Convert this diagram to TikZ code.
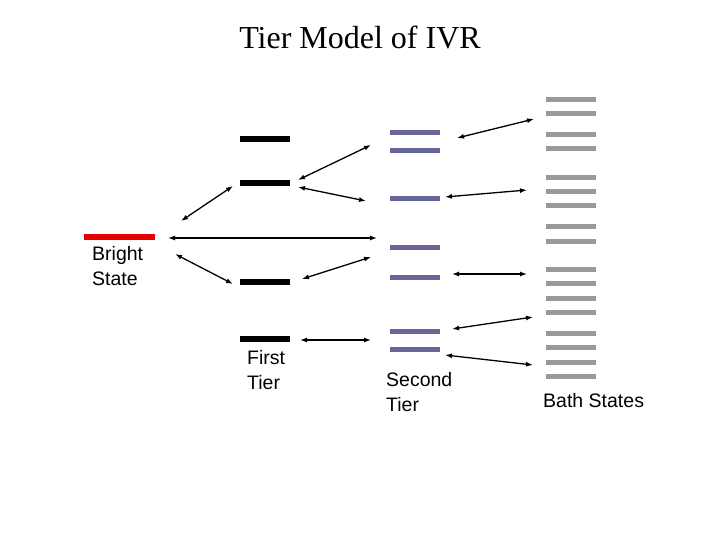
\documentclass[tikz,border=0pt]{standalone}
\usepackage{fontspec}
\setmainfont{Liberation Serif}
\setsansfont{Liberation Sans}
\usetikzlibrary{arrows.meta}
\begin{document}
\begin{tikzpicture}[x=1pt,y=-1pt,
  arr/.style={{Latex[length=7pt,width=5pt]}-{Latex[length=7pt,width=5pt]},line width=1.3pt},
  lab/.style={font=\sffamily\fontsize{19.5}{25}\selectfont,align=left,anchor=north west,inner sep=0pt}]
\useasboundingbox (0,0) rectangle (720,540);
\node[font=\fontsize{32}{34}\selectfont] (title) at (360,37) {Tier Model of IVR};
% bright
\draw[line width=6pt,red!90!black] (84,237) -- (155,237);
\node[lab] (bl) at (92,246) {Bright\\State};
% first tier
\foreach \y in {139,183,282,339} \draw[line width=6pt] (240,\y) -- (290,\y);
\node[lab] (fl) at (247,350) {First\\Tier};
% second tier
\foreach \y in {133,151,199,247,277,331,349} \draw[line width=5pt,color={rgb,255:red,102;green,102;blue,153}] (390,\y) -- (440,\y);
\node[lab] (sl) at (386,372) {Second\\Tier};
% bath
\foreach \y in {100,114,135,149,178,192,206,227,241,269,283,298,312,333,347,362,376} \draw[line width=5pt,color={rgb,255:red,153;green,153;blue,153}] (546,\y) -- (596,\y);
\node[lab] (bt) at (543,393) {Bath States};
% arrows
\coordinate (a1) at (181,221); \coordinate (b1) at (233,186);
\coordinate (a2) at (175,254); \coordinate (b2) at (233,284);
\coordinate (a3) at (168,238); \coordinate (b3) at (377,238);
\coordinate (a4) at (298,180); \coordinate (b4) at (371,145);
\coordinate (a5) at (298,187); \coordinate (b5) at (366,201);
\coordinate (a6) at (302,279); \coordinate (b6) at (371,257);
\coordinate (a7) at (300,340); \coordinate (b7) at (371,340);
\coordinate (a8) at (457,138); \coordinate (b8) at (534,119);
\coordinate (a9) at (445,197); \coordinate (b9) at (527,190);
\coordinate (a10) at (452,274); \coordinate (b10) at (527,274);
\coordinate (a11) at (452,329); \coordinate (b11) at (533,317);
\coordinate (a12) at (445,355); \coordinate (b12) at (533,365);
\foreach \i in {1,...,12} \draw[arr] (a\i) -- (b\i);
\end{tikzpicture}
\end{document}
